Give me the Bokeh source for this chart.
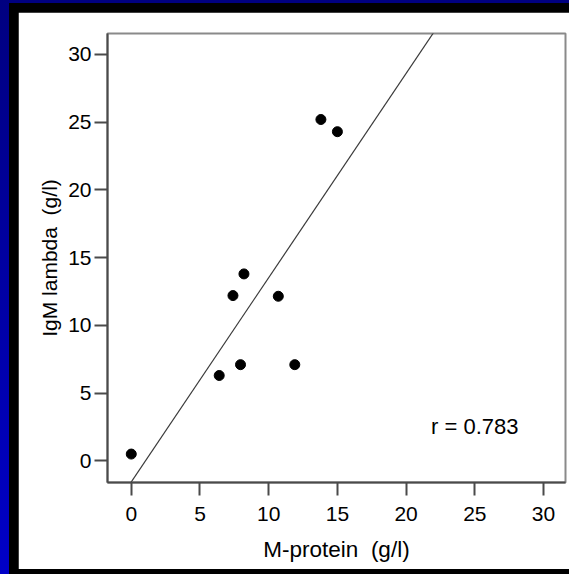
import numpy as np
from bokeh.plotting import figure
from bokeh.models import Range1d, FixedTicker, Label
from bokeh.layouts import column
from bokeh.embed import file_html
from bokeh.resources import INLINE

# data
m_protein = [0.0, 6.4, 7.95, 11.9, 7.4, 8.2, 10.7, 13.8, 15.0]
igm_lambda = [0.5, 6.3, 7.1, 7.1, 12.2, 13.8, 12.15, 25.2, 24.3]
x_ticks = [0, 5, 10, 15, 20, 25, 30]
y_ticks = [0, 5, 10, 15, 20, 25, 30]
x_title = "M-protein\u00a0 (g/l)"
y_title = "IgM lambda\u00a0 (g/l)"
r_text = "r = 0.783"

FONT = "Liberation Sans"

p = figure(width=551, height=557, output_backend="svg", toolbar_location=None,
           x_range=Range1d(-1.73, 31.6), y_range=Range1d(-1.6, 31.55),
           min_border_left=89, min_border_top=21, min_border_right=4, min_border_bottom=87)
p.background_fill_color = "white"
p.border_fill_color = "white"
p.outline_line_color = "#8a8a8a"
p.outline_line_width = 2
p.grid.visible = False

for ax, tk in ((p.xaxis, x_ticks), (p.yaxis, y_ticks)):
    ax.ticker = FixedTicker(ticks=tk)
    ax.minor_tick_line_color = None
    ax.axis_line_color = "#4a4a4a"
    ax.axis_line_width = 2
    ax.major_tick_line_color = "#4a4a4a"
    ax.major_tick_line_width = 2
    ax.major_tick_in = 0
    ax.major_tick_out = 13
    ax.major_label_text_font = FONT
    ax.major_label_text_font_size = "21px"
    ax.major_label_text_font_style = "normal"
    ax.major_label_text_color = "black"
    ax.axis_label_text_font = FONT
    ax.axis_label_text_font_style = "normal"
    ax.axis_label_text_color = "black"

p.xaxis.axis_label = x_title
p.yaxis.axis_label = y_title
p.xaxis.axis_label_text_font_size = "22.5px"
p.yaxis.axis_label_text_font_size = "21px"
p.xaxis.major_label_standoff = 11
p.yaxis.major_label_standoff = 3
p.xaxis.axis_label_standoff = 13
p.yaxis.axis_label_standoff = 4

slope, intercept = np.polyfit(m_protein, igm_lambda, 1)
lx = np.array([-2.0, 32.0])
p.line(lx, slope * lx + intercept, line_color="#3a3a3a", line_width=1.2)

p.scatter(m_protein, igm_lambda, size=10, fill_color="black", line_color="black")

p.add_layout(Label(x=25, y=2.5, text=r_text, text_align="center", text_baseline="middle",
                   text_font=FONT, text_font_size="22px", text_font_style="normal",
                   text_color="black"))

p.margin = (9, 0, 5, 9)
inner = column(p, styles={"background-color": "#000000"}, margin=(3, 0, 0, 9))
outer = column(inner, styles={"background": "linear-gradient(#000080, #0000c8)"}, margin=0)

open("out.html", "w").write(file_html(outer, INLINE))
